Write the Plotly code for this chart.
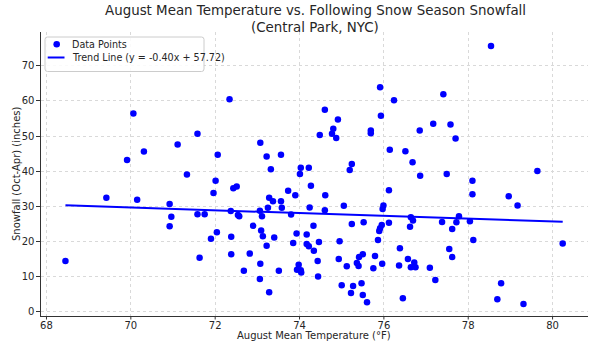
import numpy as np
import plotly.graph_objects as go

aug_temp = [68.45, 69.42, 69.91, 70.06, 70.15, 70.31, 70.92, 70.96, 70.92, 71.11,
            71.33, 71.58, 71.58, 71.63, 71.75, 71.90, 71.96, 72.01, 72.04, 72.06,
            72.34, 72.37, 72.38, 72.38, 72.43, 72.51, 72.54, 72.57, 72.68, 72.82,
            72.90, 73.06, 73.07, 73.07, 73.06, 73.09, 73.11, 73.13, 73.22, 73.22,
            73.25, 73.28, 73.28, 73.32, 73.37, 73.40, 73.51, 73.56, 73.56, 73.58,
            73.73, 73.80, 73.85, 73.90, 73.93, 73.94, 73.98, 74.01, 74.03, 74.03,
            74.04, 74.17, 74.17, 74.22, 74.22, 74.24, 74.27, 74.33, 74.34, 74.43,
            74.44, 74.46, 74.48, 74.60, 74.60, 74.61, 74.77, 74.80, 74.87, 74.91,
            74.93, 74.95, 75.00, 75.05, 75.12, 75.19, 75.22, 75.24, 75.24, 75.27,
            75.36, 75.40, 75.41, 75.47, 75.50, 75.50, 75.52, 75.60, 75.69, 75.69,
            75.75, 75.79, 75.86, 75.89, 75.91, 75.91, 75.93, 75.95, 75.96, 75.97,
            75.99, 76.12, 76.12, 76.14, 76.24, 76.36, 76.38, 76.45, 76.51, 76.57,
            76.62, 76.64, 76.64, 76.68, 76.69, 76.72, 76.75, 76.85, 76.86, 77.09,
            77.17, 77.22, 77.38, 77.41, 77.49, 77.55, 77.58, 77.62, 77.62, 77.70,
            77.72, 77.78, 78.04, 78.10, 78.10, 78.12, 78.54, 78.69, 78.78, 78.96,
            79.17, 79.31, 79.64, 80.24]

snowfall = [14.5, 32.5, 43.2, 56.4, 31.9, 45.6, 30.7, 27.1, 24.4, 47.6,
            39.1, 50.7, 27.8, 15.4, 27.8, 20.8, 33.8, 37.3, 22.7, 44.7,
            60.5, 28.7, 21.4, 16.4, 35.2, 35.7, 27.6, 27.2, 11.7, 16.6,
            24.5, 28.8, 48.1, 13.7, 9.4, 23.2, 27.2, 21.5, 44.2, 18.8,
            29.6, 32.5, 5.6, 40.6, 31.5, 21.2, 11.7, 44.7, 31.5, 29.6,
            34.5, 27.7, 19.6, 33.2, 22.3, 12.0, 13.4, 39.2, 41.0, 11.9,
            11.2, 22.0, 19.3, 18.7, 41.0, 29.7, 35.9, 24.5, 17.4, 14.5,
            10.1, 19.9, 50.3, 57.5, 28.9, 33.2, 50.7, 52.1, 49.5, 54.7,
            15.1, 20.1, 7.6, 30.2, 13.0, 40.4, 5.4, 42.1, 25.0, 7.4,
            13.9, 13.1, 15.6, 8.2, 16.4, 4.8, 25.5, 2.8, 51.6, 50.8,
            12.4, 15.9, 20.5, 23.0, 23.8, 63.9, 55.8, 24.7, 13.7, 29.3,
            30.3, 34.6, 25.4, 46.1, 60.2, 13.2, 18.1, 3.9, 45.7, 15.1,
            24.2, 26.9, 12.7, 42.6, 26.0, 14.1, 12.7, 51.6, 38.7, 12.6,
            53.5, 9.1, 25.6, 61.9, 39.2, 17.9, 53.3, 23.6, 15.6, 49.3,
            25.5, 27.2, 25.8, 37.3, 33.5, 20.5, 75.6, 3.6, 8.2, 32.9,
            30.3, 2.3, 40.1, 19.5]

SLOPE = -0.40
INTERCEPT = 57.72

x_ticks = [68, 70, 72, 74, 76, 78, 80]
y_ticks = [0, 10, 20, 30, 40, 50, 60, 70]

title_lines = ["August Mean Temperature vs. Following Snow Season Snowfall",
               "(Central Park, NYC)"]
x_label = "August Mean Temperature (°F)"
y_label = "Snowfall (Oct-Apr) (inches)"
scatter_name = "Data Points"
trend_name = f"Trend Line (y = {SLOPE:.2f}x + {INTERCEPT:.2f})"

FONT = "DejaVu Sans"
TXT = "#262626"
AX = "#333333"
BLUE = "#0000ff"
W, H = 593, 345
ML, MR, MT, MB = 41, 5, 32, 29
PW, PH = W - ML - MR, H - MT - MB
TICKLEN = 3.5


def pxx(px):
    return (px - ML) / PW


def pxy(py):
    return (H - MB - py) / PH


trend_x = np.array([min(aug_temp), max(aug_temp)])
trend_y = SLOPE * trend_x + INTERCEPT

fig = go.Figure()
fig.add_trace(go.Scatter(
    x=aug_temp, y=snowfall, mode="markers", name=scatter_name,
    marker=dict(color=BLUE, size=6.5, line=dict(width=0)),
))
fig.add_trace(go.Scatter(
    x=trend_x, y=trend_y, mode="lines", name=trend_name,
    line=dict(color=BLUE, width=2),
))

axis_common = dict(
    showgrid=True, gridcolor="#d9d9d9", griddash="dot", gridwidth=1,
    showline=True, linecolor=AX, linewidth=1.2,
    zeroline=False, automargin=False,
    tickfont=dict(family=FONT, size=10, color=TXT),
)

# legend box (matplotlib-like, drawn in pixel positions)
LX0, LY0, LX1, LY1, R = 45, 37, 204, 71.5, 2.5


def rounded_rect_path(x0, y0, x1, y1, r):
    pts = [
        f"M {pxx(x0 + r)},{pxy(y0)}",
        f"L {pxx(x1 - r)},{pxy(y0)}",
        f"Q {pxx(x1)},{pxy(y0)} {pxx(x1)},{pxy(y0 + r)}",
        f"L {pxx(x1)},{pxy(y1 - r)}",
        f"Q {pxx(x1)},{pxy(y1)} {pxx(x1 - r)},{pxy(y1)}",
        f"L {pxx(x0 + r)},{pxy(y1)}",
        f"Q {pxx(x0)},{pxy(y1)} {pxx(x0)},{pxy(y1 - r)}",
        f"L {pxx(x0)},{pxy(y0 + r)}",
        f"Q {pxx(x0)},{pxy(y0)} {pxx(x0 + r)},{pxy(y0)}",
        "Z",
    ]
    return " ".join(pts)


shapes = [
    dict(type="path", xref="paper", yref="paper",
         path=rounded_rect_path(LX0, LY0, LX1, LY1, R),
         fillcolor="rgba(255,255,255,0.85)", line=dict(color="#cccccc", width=1),
         layer="above"),
    dict(type="circle", xref="paper", yref="paper",
         x0=pxx(56.7 - 3.3), x1=pxx(56.7 + 3.3), y0=pxy(44.3 + 3.3), y1=pxy(44.3 - 3.3),
         fillcolor=BLUE, line=dict(width=0), layer="above"),
    dict(type="line", xref="paper", yref="paper",
         x0=pxx(47.7), x1=pxx(64.5), y0=pxy(57.5), y1=pxy(57.5),
         line=dict(color=BLUE, width=2), layer="above"),
]
# outside tick marks on the x axis (matplotlib style)
for tv in x_ticks:
    shapes.append(dict(type="line", xref="x", yref="paper",
                       x0=tv, x1=tv, y0=0, y1=-TICKLEN / PH,
                       line=dict(color=AX, width=1), layer="above"))

annotations = [
    dict(text=title_lines[0], x=pxx(315), y=pxy(11),
         xref="paper", yref="paper", showarrow=False, xanchor="center", yanchor="middle",
         font=dict(family=FONT, size=13.4, color=TXT)),
    dict(text=title_lines[1], x=pxx(315), y=pxy(27.5),
         xref="paper", yref="paper", showarrow=False, xanchor="center", yanchor="middle",
         font=dict(family=FONT, size=13.4, color=TXT)),
    dict(text=x_label, x=pxx(314), y=pxy(335),
         xref="paper", yref="paper", showarrow=False, xanchor="center", yanchor="middle",
         font=dict(family=FONT, size=10, color=TXT)),
    dict(text=y_label, x=pxx(16), y=pxy(174),
         xref="paper", yref="paper", showarrow=False, xanchor="center", yanchor="middle",
         textangle=-90, font=dict(family=FONT, size=10, color=TXT)),
    dict(text=scatter_name, x=pxx(70), y=pxy(44.3),
         xref="paper", yref="paper", showarrow=False, xanchor="left", yanchor="middle",
         font=dict(family=FONT, size=9.6, color=TXT)),
    dict(text=trend_name, x=pxx(70), y=pxy(57.5),
         xref="paper", yref="paper", showarrow=False, xanchor="left", yanchor="middle",
         font=dict(family=FONT, size=9.6, color=TXT)),
]

fig.update_layout(
    width=W, height=H,
    margin=dict(l=ML, r=MR, t=MT, b=MB, autoexpand=False),
    paper_bgcolor="white", plot_bgcolor="white",
    font=dict(family=FONT, color=TXT),
    xaxis=dict(axis_common, range=[67.87, 80.84], tickvals=x_ticks, ticks=""),
    yaxis=dict(axis_common, range=[-1.14, 79.6], tickvals=y_ticks,
               ticks="outside", ticklen=TICKLEN, tickcolor=AX, tickwidth=1),
    annotations=annotations,
    shapes=shapes,
    showlegend=False,
)

fig.write_html("out.html")
